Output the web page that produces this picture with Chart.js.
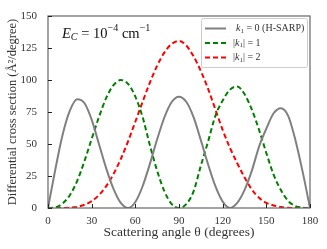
<!DOCTYPE html>
<html>
<head>
<meta charset="utf-8">
<script src="https://cdn.jsdelivr.net/npm/chart.js@4.4.1/dist/chart.umd.min.js"></script>
<style>
  html, body { margin: 0; padding: 0; background: #fff; }
</style>
</head>
<body>
<canvas id="chart" width="327" height="249"></canvas>
<script>
// Scattering angle grid (degrees)
const angles = [0, 5, 10, 15, 20, 25, 30, 35, 40, 45, 50, 55, 60, 65, 70, 75, 80, 85, 90,
  95, 100, 105, 110, 115, 120, 125, 130, 135, 140, 145, 150, 155, 160, 165, 170, 175, 180];

// Differential cross sections (A^2/degree)
const hSarp = [0, 30, 57, 76, 85, 82, 69, 50, 31, 15, 4, 0, 4.7, 17, 34.5, 53.7, 70.9, 82.8, 87,
  83, 71, 53, 34, 17, 5, 0, 4, 14, 29, 48, 62, 74, 78, 72, 53, 28, 0];
const k1One = [0, 0.5, 3.5, 10, 21, 36.5, 54, 71, 86, 96, 100, 97, 87, 71, 49, 29, 13, 3, 0,
  3, 13, 33, 52, 72, 84, 92.5, 95, 89, 77, 61, 43, 26, 14, 5.5, 1.5, 0.3, 0];
const k1Two = [0, 0, 0.04, 0.26, 0.9, 2.5, 5.4, 10.1, 17.1, 26.5, 38.3, 52.1, 67.4, 83, 98, 111.2, 121.6, 128.2, 130.5,
  127, 118.5, 107, 93, 77, 61, 47, 35, 24, 14.5, 8, 4, 2, 0.8, 0.2, 0, 0, 0];

const xTicks = [0, 30, 60, 90, 120, 150, 180];
const yTicks = [0, 25, 50, 75, 100, 125, 150];

const serif = '"Liberation Serif", "DejaVu Serif", serif';
const textColor = '#333';

const toPoints = vals => angles.map((a, i) => ({ x: a, y: vals[i] }));

// draw a run of text pieces (italic / sub / sup) left to right
const drawRich = (ctx, parts, x, y, size) => {
  let cx = x;
  parts.forEach(p => {
    const s = (p.sub || p.sup) ? size * 0.7 : size;
    ctx.font = `${p.italic ? 'italic ' : ''}${s}px ${serif}`;
    const dy = p.sub ? size * 0.25 : p.sup ? -size * 0.38 : 0;
    ctx.fillText(p.t, cx, y + dy);
    cx += ctx.measureText(p.t).width;
  });
};

const legendItems = [
  { color: '#808080', dash: [], parts: [{ t: 'k', italic: true }, { t: '1', sub: true }, { t: ' = 0 (H-SARP)' }] },
  { color: '#008000', dash: [5, 3], parts: [{ t: '|' }, { t: 'k', italic: true }, { t: '1', sub: true }, { t: '| = 1' }] },
  { color: '#ff0000', dash: [5, 3], parts: [{ t: '|' }, { t: 'k', italic: true }, { t: '1', sub: true }, { t: '| = 2' }] }
];

const decorations = {
  id: 'decorations',
  afterDatasetsDraw(chart) {
    const { ctx, chartArea: a, scales } = chart;
    ctx.save();

    // frame
    ctx.strokeStyle = '#666';
    ctx.lineWidth = 1.2;
    ctx.strokeRect(a.left, a.top, a.right - a.left, a.bottom - a.top);

    // inward ticks
    ctx.strokeStyle = '#222';
    ctx.lineWidth = 1;
    ctx.beginPath();
    xTicks.forEach(v => {
      const px = Math.round(scales.x.getPixelForValue(v)) + 0.5;
      ctx.moveTo(px, a.bottom);
      ctx.lineTo(px, a.bottom - 4);
    });
    yTicks.forEach(v => {
      const py = Math.round(scales.y.getPixelForValue(v)) + 0.5;
      ctx.moveTo(a.left, py);
      ctx.lineTo(a.left + 4, py);
    });
    ctx.stroke();

    // energy annotation
    ctx.fillStyle = '#111';
    ctx.textBaseline = 'middle';
    drawRich(ctx, [
      { t: 'E', italic: true }, { t: 'C', italic: true, sub: true }, { t: ' = 10' },
      { t: '−4', sup: true }, { t: ' cm' }, { t: '−1', sup: true }
    ], 62, 34, 14.5);

    // legend
    const bx = 201, by = 18, bw = 106, bh = 49;
    ctx.fillStyle = 'rgba(255,255,255,0.85)';
    ctx.strokeStyle = '#ccc';
    ctx.lineWidth = 1;
    ctx.beginPath();
    ctx.roundRect(bx + 0.5, by + 0.5, bw, bh, 2);
    ctx.fill();
    ctx.stroke();
    legendItems.forEach((item, i) => {
      const ry = 28.5 + i * 14.5;
      ctx.strokeStyle = item.color;
      ctx.lineWidth = 2;
      ctx.setLineDash(item.dash);
      ctx.beginPath();
      ctx.moveTo(205, ry);
      ctx.lineTo(226, ry);
      ctx.stroke();
      ctx.setLineDash([]);
      ctx.fillStyle = textColor;
      drawRich(ctx, item.parts, i === 0 ? 236 : 233, ry, 10);
    });

    ctx.restore();
  }
};

new Chart(document.getElementById('chart'), {
  type: 'line',
  data: {
    datasets: [
      { label: 'k1 = 0 (H-SARP)', data: toPoints(hSarp), borderColor: '#808080', borderWidth: 2 },
      { label: '|k1| = 1', data: toPoints(k1One), borderColor: '#008000', borderWidth: 2, borderDash: [5, 3] },
      { label: '|k1| = 2', data: toPoints(k1Two), borderColor: '#ff0000', borderWidth: 2, borderDash: [5, 3] }
    ]
  },
  options: {
    responsive: false,
    animation: false,
    layout: { padding: { top: 16, right: 17, left: 0, bottom: 0 } },
    elements: {
      point: { radius: 0 },
      line: { cubicInterpolationMode: 'monotone', fill: false }
    },
    plugins: { legend: { display: false }, tooltip: { enabled: false } },
    scales: {
      x: {
        type: 'linear',
        min: 0,
        max: 180,
        afterBuildTicks: s => { s.ticks = xTicks.map(v => ({ value: v })); },
        afterFit: s => { s.height = 41; },
        grid: { display: false },
        border: { display: false },
        ticks: { color: textColor, padding: -1, maxRotation: 0, font: { family: serif, size: 11 } },
        title: {
          display: true,
          text: 'Scattering angle θ (degrees)',
          color: textColor,
          padding: { top: 0, bottom: 8 },
          font: { family: serif, size: 13.5 }
        }
      },
      y: {
        min: 0,
        max: 150,
        afterBuildTicks: s => { s.ticks = yTicks.map(v => ({ value: v })); },
        afterFit: s => { s.width = 48; },
        grid: { display: false },
        border: { display: false },
        ticks: { color: textColor, padding: 3, font: { family: serif, size: 11 } },
        title: {
          display: true,
          text: 'Differential cross section (Å²/degree)',
          color: textColor,
          padding: { top: 5, bottom: 0 },
          font: { family: serif, size: 12.5 }
        }
      }
    }
  },
  plugins: [decorations]
});
</script>
</body>
</html>
